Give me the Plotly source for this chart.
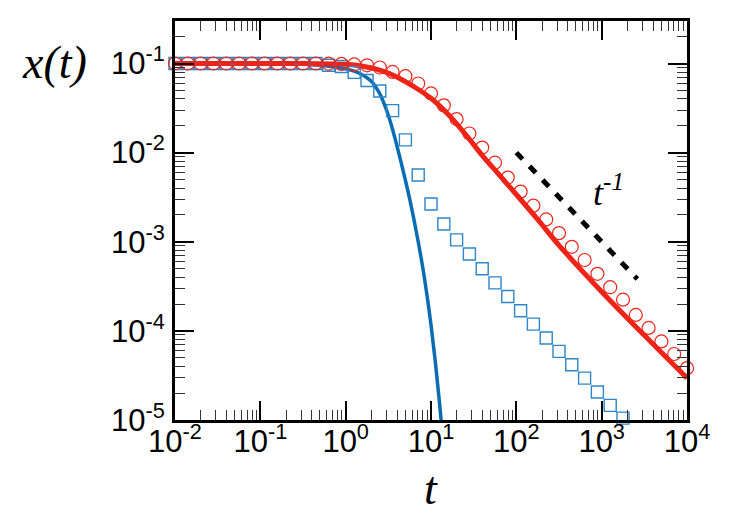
import plotly.graph_objects as go

# ---------------- data ----------------
# marker grid, log10(t)
log_t_markers = [-2.0, -1.85, -1.7, -1.55, -1.4, -1.25, -1.1, -0.95, -0.8, -0.65,
                 -0.5, -0.35, -0.2, -0.05, 0.1, 0.25, 0.4, 0.55, 0.7, 0.85,
                 1.0, 1.15, 1.3, 1.45, 1.6, 1.75, 1.9, 2.05, 2.2, 2.35,
                 2.5, 2.65, 2.8, 2.95, 3.1, 3.25, 3.4, 3.55, 3.7, 3.85, 4.0]

circles_y = [0.1, 0.1, 0.1, 0.1, 0.1, 0.1, 0.1, 0.1, 0.1, 0.1,
             0.1, 0.1, 0.0995, 0.0989, 0.0977, 0.0955, 0.0902, 0.0805, 0.0721, 0.0597,
             0.0462, 0.0339, 0.0238, 0.0164, 0.0114, 0.00771, 0.00525, 0.00365, 0.00254, 0.00178,
             0.00125, 0.000877, 0.000624, 0.000437, 0.000309, 0.000224, 0.000151, 0.000108, 7.62e-5, 5.50e-5,
             3.82e-5]

squares_y = [0.1, 0.1, 0.1, 0.1, 0.1, 0.1, 0.1, 0.1, 0.1, 0.1,
             0.1, 0.1, 0.0955, 0.0925, 0.0795, 0.0645, 0.0492, 0.0296, 0.0139, 0.00562,
             0.00265, 0.00158, 0.00105, 0.000729, 0.000497, 0.000346, 0.000243, 0.000168, 0.000119, 8.32e-5,
             5.89e-5, 4.17e-5, 2.95e-5, 2.06e-5, 1.46e-5, 1.05e-5]

# red solid curve
red_log_t = [-2.0, -1.0, -0.5, 0.0, 0.2, 0.4, 0.6, 0.8, 1.0, 1.2, 1.4, 1.6, 1.8, 2.0,
             2.25, 2.5, 3.0, 3.5, 4.0]
red_y = [0.1, 0.1, 0.0998, 0.0982, 0.0933, 0.0841, 0.0708, 0.0550, 0.0407, 0.0269, 0.0162,
         0.00933, 0.00562, 0.00339, 0.00178, 0.000912, 0.000275, 8.91e-5, 2.95e-5]

# blue solid curve
blue_log_t = [-2.0, -1.0, -0.5, -0.3, -0.2, -0.1, 0.0, 0.1, 0.2, 0.3, 0.35, 0.4, 0.45, 0.5,
              0.55, 0.6, 0.65, 0.7, 0.75, 0.8, 0.85, 0.9, 0.95, 1.0, 1.05, 1.1, 1.15]
blue_y = [0.1, 0.1, 0.0989, 0.0955, 0.0933, 0.0905, 0.0871, 0.0820, 0.0741, 0.0631,
          0.0550, 0.0457, 0.0355, 0.0263, 0.0182, 0.0120, 0.00776, 0.00490, 0.00302,
          0.00178, 0.00100, 0.000537, 0.000263, 0.000117, 4.57e-5, 1.55e-5, 4.4e-6]

# t^-1 guide line
guide_t = [100, 2620]
guide_y = [0.01, 3.82e-4]

x_tick_vals = [0.01, 0.1, 1, 10, 100, 1000, 10000]
x_tick_text = ["10<sup>-2</sup>", "10<sup>-1</sup>", "10<sup>0</sup>", "10<sup>1</sup>",
               "10<sup>2</sup>", "10<sup>3</sup>", "10<sup>4</sup>"]
y_tick_vals = [1e-5, 1e-4, 1e-3, 1e-2, 1e-1]
y_tick_text = ["10<sup>-5</sup>", "10<sup>-4</sup>", "10<sup>-3</sup>", "10<sup>-2</sup>",
               "10<sup>-1</sup>"]

# ---------------- figure ----------------
RED = "#ee2419"
BLUE_LINE = "#0a6db3"
BLUE_MK = "#2d86c8"

t_markers = [10 ** v for v in log_t_markers]
red_t = [10 ** v for v in red_log_t]
blue_t = [10 ** v for v in blue_log_t]

fig = go.Figure()

fig.add_trace(go.Scatter(x=blue_t, y=blue_y, mode="lines", line_shape="spline",
                         line=dict(color=BLUE_LINE, width=3.5), showlegend=False))
fig.add_trace(go.Scatter(x=red_t, y=red_y, mode="lines", line_shape="spline",
                         line=dict(color=RED, width=5), showlegend=False))
fig.add_trace(go.Scatter(x=guide_t, y=guide_y, mode="lines",
                         line=dict(color="black", width=5, dash="9px,10px"), showlegend=False))
fig.add_trace(go.Scatter(x=t_markers[:len(squares_y)], y=squares_y, mode="markers",
                         marker=dict(symbol="square-open", size=12, color=BLUE_MK,
                                     line=dict(width=1.4, color=BLUE_MK)),
                         cliponaxis=False, showlegend=False))
fig.add_trace(go.Scatter(x=t_markers, y=circles_y, mode="markers",
                         marker=dict(symbol="circle-open", size=13, color=RED,
                                     line=dict(width=1.2, color=RED)),
                         cliponaxis=False, showlegend=False))

tickfont = dict(family="Liberation Sans, Arial, sans-serif", size=31, color="black")
common = dict(type="log", showgrid=False, zeroline=False, showline=True, linecolor="black",
              linewidth=3, mirror="allticks", ticks="inside", ticklen=19, tickwidth=1.5,
              tickcolor="black", tickfont=tickfont,
              minor=dict(ticks="inside", ticklen=10, tickwidth=1, tickcolor="#333333",
                         dtick="D1", showgrid=False))

fig.update_xaxes(range=[-2, 4], tickvals=x_tick_vals, ticktext=x_tick_text,
                 ticklabelstandoff=-8, **common)
fig.update_yaxes(range=[-5, -0.523], tickvals=y_tick_vals, ticktext=y_tick_text,
                 ticklabelstandoff=1, **common)

serif = "Liberation Serif, Times New Roman, serif"
fig.add_annotation(text="<i>x(t)</i>", xref="paper", yref="paper", x=-0.236, y=0.897,
                   showarrow=False, font=dict(family=serif, size=46, color="black"),
                   xanchor="center", yanchor="middle")
fig.add_annotation(text="<i>t</i>", xref="paper", yref="paper", x=0.5, y=-0.172,
                   showarrow=False, font=dict(family=serif, size=46, color="black"),
                   xanchor="center", yanchor="middle")
fig.add_annotation(text="<i>t</i><sup><i>-1</i></sup>", xref="paper", yref="paper",
                   x=0.846, y=0.576, showarrow=False,
                   font=dict(family=serif, size=36, color="black"),
                   xanchor="center", yanchor="middle")

fig.update_layout(width=750, height=525, margin=dict(l=175, r=63, t=21, b=105),
                  paper_bgcolor="white", plot_bgcolor="white")

fig.write_html("out.html")
